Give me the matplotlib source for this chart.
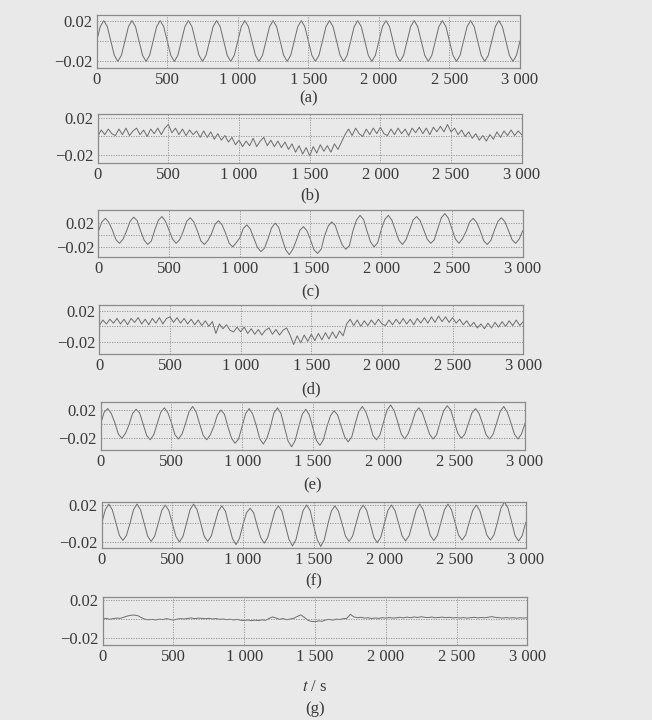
import numpy as np
import matplotlib
matplotlib.use("Agg")
import matplotlib.pyplot as plt

# time axis (s), one sample every 25 s
t = np.arange(0, 3001, 25)

# signal values in units of 1e-3
sig_a = [0, 14.1, 20, 14.1, 0, -14.1, -20, -14.1,
         0, 14.1, 20, 14.1, 0, -14.1, -20, -14.1,
         0, 14.1, 20, 14.1, 0, -14.1, -20, -14.1,
         0, 14.1, 20, 14.1, 0, -14.1, -20, -14.1,
         0, 14.1, 20, 14.1, 0, -14.1, -20, -14.1,
         0, 14.1, 20, 14.1, 0, -14.1, -20, -14.1,
         0, 14.1, 20, 14.1, 0, -14.1, -20, -14.1,
         0, 14.1, 20, 14.1, 0, -14.1, -20, -14.1,
         0, 14.1, 20, 14.1, 0, -14.1, -20, -14.1,
         0, 14.1, 20, 14.1, 0, -14.1, -20, -14.1,
         0, 14.1, 20, 14.1, 0, -14.1, -20, -14.1,
         0, 14.1, 20, 14.1, 0, -14.1, -20, -14.1,
         0, 14.1, 20, 14.1, 0, -14.1, -20, -14.1,
         0, 14.1, 20, 14.1, 0, -14.1, -20, -14.1,
         0, 14.1, 20, 14.1, 0, -14.1, -20, -14.1,
         0]

sig_b = [0, 7, 2, 8, 3, 1, 8, 2, 9, 1, 6, 9, 2, 7, 0, 8, 3, 9, 2, 9,
         13, 4, 9, 2, 8, 1, 7, 2, 6, -1, 6, -1, 5, -3, 3, -4, 1, -6, -1, -9,
         -4, -11, -5, -10, -2, -11, -5, -1, -10, -4, -11, -5, -12, -6, -14, -8, -17, -10, -19, -12,
         -21, -11, -18, -9, -16, -10, -17, -8, -14, -6, 2, 8, 1, 9, 3, 0, 8, 2, 9, 3,
         10, 3, 1, 8, 2, 9, 3, 8, 1, 9, 4, 10, 3, 9, 2, 10, 5, 11, 5, 13,
         5, 9, 2, 7, 0, 5, -2, 3, -4, 1, -5, 2, -3, 5, -1, 6, 1, 7, 1, 6,
         2]

sig_c = [6, 22, 28, 21, 8, -8, -14, -7,
         7, 23, 30, 24, 6, -9, -16, -10,
         9, 25, 31, 23, 8, -7, -14, -8,
         6, 23, 29, 22, 7, -10, -16, -9,
         2, 18, 24, 17, 3, -14, -20, -13,
         -5, 11, 17, 10, -6, -21, -28, -22,
         -6, 12, 20, 13, -7, -25, -33, -24,
         -9, 8, 14, 7, -8, -25, -31, -24,
         -1, 15, 22, 16, -2, -17, -24, -18,
         7, 25, 33, 26, 6, -12, -20, -13,
         9, 26, 33, 25, 8, -9, -16, -8,
         8, 25, 31, 24, 9, -7, -14, -8,
         11, 29, 36, 28, 10, -7, -14, -6,
         6, 22, 28, 21, 7, -10, -16, -9,
         8, 23, 29, 22, 7, -8, -14, -7,
         7]

sig_d = [1, 8, 3, 9, 4, 10, 3, 9, 2, 10, 5, 11, 3, 9, 2, 10, 4, 11, 3, 10,
         12, 5, 11, 4, 10, 3, 9, 2, 8, 1, 7, 0, 6, -9, 3, -3, 2, -5, -7, -1,
         -7, -1, -9, -3, -10, -4, -11, -5, -2, -10, -4, -11, -5, -2, -11, -23, -12, -21, -11, -19,
         -10, -18, -9, -17, -8, -16, -7, -15, -6, -12, 3, 9, 1, 8, 0, 7, 1, 8, 2, 9,
         3, 1, 8, 2, 9, 3, 10, 3, 9, 2, 10, 4, 11, 4, 12, 5, 13, 6, 12, 5,
         11, 4, 9, 2, 7, 0, 5, -2, 3, -3, 4, -2, 5, -1, 6, 0, 7, 1, 8, 1,
         6]

sig_e = [1, 17, 22, 15, 2, -14, -20, -13,
         -1, 15, 21, 16, 0, -16, -22, -15,
         1, 17, 23, 16, 2, -15, -21, -14,
         1, 18, 25, 17, 0, -16, -22, -15,
         -3, 13, 20, 14, -4, -20, -27, -21,
         -3, 15, 22, 14, -2, -21, -28, -20,
         -4, 16, 23, 15, -5, -24, -32, -23,
         -4, 14, 21, 13, -5, -23, -30, -22,
         -3, 12, 19, 13, -3, -18, -25, -18,
         1, 18, 25, 17, 2, -16, -22, -15,
         3, 20, 27, 19, 3, -14, -21, -13,
         1, 17, 23, 16, 1, -14, -21, -15,
         3, 19, 26, 20, 3, -13, -20, -14,
         1, 16, 22, 15, 1, -15, -21, -14,
         2, 18, 25, 17, 2, -14, -21, -14,
         1]

sig_f = [0, 14.8, 21, 14.8, 1, -13.1, -18.5, -13.1,
         0, 14.8, 21, 14.8, 0.5, -13.8, -19.5, -13.8,
         0, 14.1, 20, 14.1, 0, -14.1, -20, -14.1,
         0, 14.8, 21, 14.8, 0.5, -13.8, -19.5, -13.8,
         0, 13.4, 19, 13.4, -2, -16.3, -23, -16.3,
         -1, 11.7, 16.5, 11.7, -2.5, -15.2, -21.5, -15.2,
         -1, 13.4, 19, 13.4, -2.5, -17.3, -24.5, -17.3,
         -1, 14.1, 20, 14.1, -2.5, -17.7, -25, -17.7,
         -1, 13.4, 19, 13.4, 0, -13.8, -19.5, -13.8,
         0, 14.1, 20, 14.1, 0, -14.8, -21, -14.8,
         0, 14.1, 20, 14.1, 0.5, -13.4, -19, -13.4,
         0.5, 14.8, 21, 14.8, 1, -13.1, -18.5, -13.1,
         1, 14.8, 21, 14.8, 1, -12.7, -18, -12.7,
         1, 14.1, 20, 14.1, 1, -12.7, -18, -12.7,
         1, 16.6, 23.5, 16.6, 2, -13.4, -19, -13.4,
         1]

sig_g = [0, 0.5, -0.5, 0.3, 0.8, 0.5, 1.8, 3, 3.8, 4, 3.2, 1.2, -0.5, -1, -0.6, -1.2, -0.4, -0.8, 0.2, -0.6,
         -1.4, -0.3, 0.2, -0.2, 0.4, 0.9, 0.2, 0.7, 0.5, 0.1, 0.6, -0.2, 0.3, -0.5, -0.2, -0.9, -0.4, -1.2, -0.6, -1.5,
         -1.8, -1.2, -2, -1.4, -1.9, -1.1, -1.6, 0.4, 2, 0.8, -0.5, 0.3, -1, -0.2, 0.6, 2.5, 4.2, 1.5, -1.5, -2.8,
         -3, -2.2, -2.6, -1.2, -0.6, -1.4, -0.3, -0.8, 0.2, 0.5, 4.8, 2, 1.2, 1.6, 0.8, 1.1, 0.4, 0.9, 0.5, 1.2,
         0.7, 1.4, 0.8, 1.1, 1.6, 1, 1.8, 1.2, 2, 1.4, 2.2, 1.6, 1.3, 1.9, 1.1, 1.5, 1.8, 1.2, 1.6, 1,
         1.4, 0.9, 1.3, 0.8, 1.2, 1.6, 1, 1.4, 1.1, 1.7, 2.3, 1.5, 1.2, 0.8, 1.3, 0.9, 1.2, 0.7, 1.1, 0.8,
         1.2]

signals = [sig_a, sig_b, sig_c, sig_d, sig_e, sig_f, sig_g]
captions = ["(a)", "(b)", "(c)", "(d)", "(e)", "(f)", "(g)"]
ylims = [(-0.0265, 0.0255), (-0.0287, 0.0243), (-0.037, 0.042), (-0.035, 0.027),
         (-0.0365, 0.0317), (-0.027, 0.0236), (-0.0278, 0.0235)]
xticks = [0, 500, 1000, 1500, 2000, 2500, 3000]
xticklabels = ["0", "500", "1 000", "1 500", "2 000", "2 500", "3 000"]

# axes boxes in pixels: left, right, top, bottom
boxes = [(96.7, 520, 15, 68), (97.7, 521.7, 114, 163), (98.3, 522.7, 210, 257),
         (99.3, 523.3, 305, 354), (100.7, 525, 401.7, 450), (101.7, 525.7, 501.7, 548.3),
         (102.7, 527.3, 596.7, 645)]
caption_y = [98, 195, 292, 389, 485, 581, 709]

W, H = 652, 720
bg = "#e9e9e9"
plt.rcParams["font.family"] = ["Liberation Serif", "DejaVu Serif"]
plt.rcParams["mathtext.fontset"] = "stix"

fig = plt.figure(figsize=(W / 100, H / 100), dpi=100, facecolor=bg)

for i in range(7):
    l, r, top, bot = boxes[i]
    ax = fig.add_axes([l / W, 1 - bot / H, (r - l) / W, (bot - top) / H])
    ax.set_facecolor(bg)
    y = np.array(signals[i]) * 1e-3
    ax.plot(t, y, color="#6c6c6c", lw=0.7)
    ax.set_xlim(0, 3000)
    ax.set_ylim(*ylims[i])
    ax.set_xticks(xticks)
    ax.set_xticklabels(xticklabels)
    ax.set_yticks([-0.02, 0.02])
    ax.set_yticklabels(["\u22120.02", "0.02"])
    ax.tick_params(length=0, labelsize=12, colors="#3a3a3a", pad=3)
    for x in xticks[1:-1]:
        ax.axvline(x, color="#8f8f8f", lw=0.6, ls=(0, (1.5, 1.5)))
    for yy in [-0.02, 0, 0.02]:
        ax.axhline(yy, color="#8f8f8f", lw=0.6, ls=(0, (1.5, 1.5)))
    for s in ax.spines.values():
        s.set_color("#8a8a8a")
        s.set_linewidth(0.9)
    fig.text((l + r) / 2 / W, 1 - caption_y[i] / H, captions[i],
             ha="center", va="center", fontsize=12, color="#3a3a3a")

fig.text((boxes[6][0] + boxes[6][1]) / 2 / W, 1 - 687 / H, "$t$ / s",
         ha="center", va="center", fontsize=12, color="#3a3a3a")

fig.savefig("out.png", dpi=100, facecolor=bg)
